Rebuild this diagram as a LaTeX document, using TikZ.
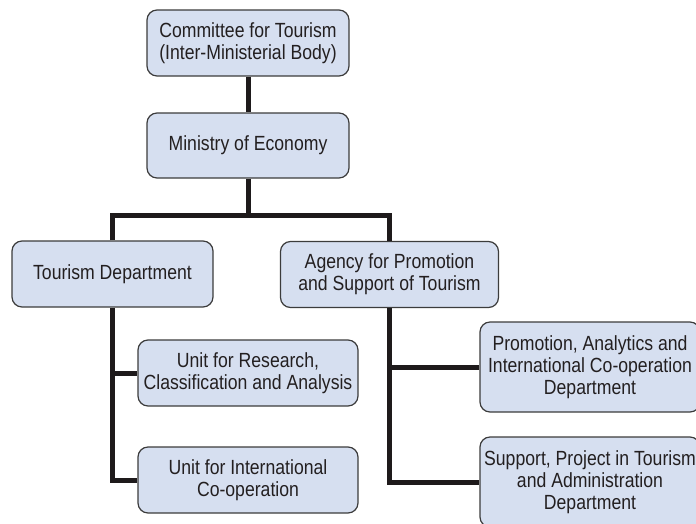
\documentclass[tikz,border=0pt]{standalone}
\usepackage{fontspec}
\setmainfont{Liberation Sans}[FakeStretch=0.86]
\definecolor{boxfill}{RGB}{214,223,240}
\definecolor{boxline}{RGB}{60,60,60}
\definecolor{txt}{RGB}{35,31,32}
\definecolor{conn}{RGB}{30,26,27}
\begin{document}
\begin{tikzpicture}[x=1pt,y=-1pt,
  orgbox/.style={draw=boxline,line width=1.2pt,fill=boxfill,rounded corners=10pt,
    align=center,inner sep=0pt,text=txt,
    font=\fontsize{20.5}{22}\selectfont},
  link/.style={draw=conn,line width=5pt,line join=miter}]
\useasboundingbox (0,0) rectangle (696,523);
\node[orgbox,minimum width=202pt,minimum height=66pt] (com) at (248,43) {Committee for Tourism\\(Inter-Ministerial Body)};
\node[orgbox,minimum width=202pt,minimum height=65pt] (min) at (248,145.5) {Ministry of Economy};
\node[orgbox,minimum width=201pt,minimum height=66pt] (td) at (112.5,274) {Tourism Department};
\node[orgbox,minimum width=218pt,minimum height=66pt] (ag) at (389.5,274.5) {Agency for Promotion\\and Support of Tourism};
\node[orgbox,minimum width=220pt,minimum height=66pt] (ur) at (248,373) {Unit for Research,\\Classification and Analysis};
\node[orgbox,minimum width=220pt,minimum height=66pt] (ui) at (248,480) {Unit for International\\Co-operation};
\node[orgbox,minimum width=220pt,minimum height=90pt] (pa) at (590,367) {Promotion, Analytics and\\International Co-operation\\Department};
\node[orgbox,minimum width=220pt,minimum height=90pt] (sp) at (590,482) {Support, Project in Tourism\\and Administration\\Department};
\coordinate (j1) at (248,215);
\draw[link] (com.south) -- (min.north);
\draw[link] (min.south) -- (j1);
\draw[link] (td.north) |- (j1) -| (ag.north);
\draw[link] (td.south) |- (ui.west);
\draw[link] (td.south |- ur.west) -- (ur.west);
\draw[link] (ag.south) |- (sp.west);
\draw[link] (ag.south |- pa.west) -- (pa.west);
\end{tikzpicture}
\end{document}
